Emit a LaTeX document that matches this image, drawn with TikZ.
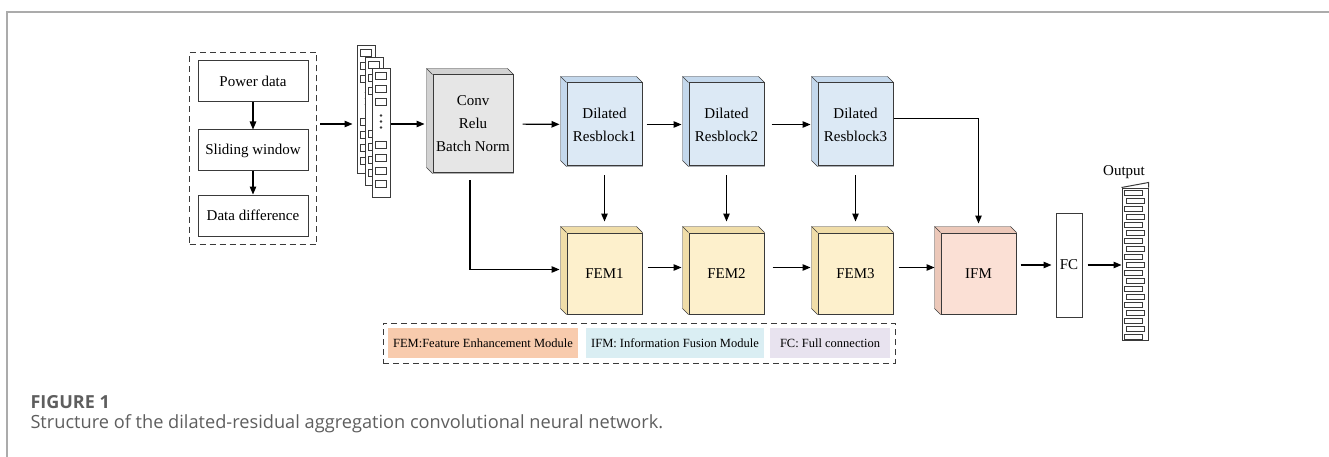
\documentclass[tikz,border=0pt]{standalone}
\usepackage{fontspec}
\setmainfont{Liberation Serif}
\newfontfamily\capfont{Open Sans}
\usetikzlibrary{arrows.meta,calc,positioning,fit,backgrounds}

\definecolor{edge}{HTML}{3A3A3A}
\definecolor{convface}{HTML}{E6E6E6}
\definecolor{convside}{HTML}{D2D2D2}
\definecolor{resface}{HTML}{DCE9F5}
\definecolor{resside}{HTML}{C4D8EC}
\definecolor{femface}{HTML}{FDF0CC}
\definecolor{femside}{HTML}{F0DDA8}
\definecolor{ifmface}{HTML}{FBE0D5}
\definecolor{ifmside}{HTML}{ECC8B9}
\definecolor{keyfem}{HTML}{F8CBAD}
\definecolor{keyifm}{HTML}{DAEEF3}
\definecolor{keyfc}{HTML}{E8E3EF}
\definecolor{frame}{HTML}{ABABAB}
\definecolor{captxt}{HTML}{5E5E5E}

\begin{document}
\begin{tikzpicture}[x=1pt,y=-1pt,
  font=\fontsize{15}{23}\selectfont,
  >={Triangle[length=8pt,width=6.5pt]},
  line width=1pt,
  block/.style={draw=edge, rectangle, inner sep=1pt, align=center},
  cube/.style={block, fill=#1, minimum width=75pt},
  fmap/.style={draw=edge, fill=white, minimum width=18pt, minimum height=128pt, inner sep=0pt},
  group/.style={draw=edge, dash pattern=on 6pt off 4pt, inner sep=#1},
  key/.style={fill=#1, minimum height=30pt, inner sep=2pt, font=\fontsize{12.5}{14}\selectfont},
  link/.style={->, line width=1.1pt}
]
\useasboundingbox (0,0) rectangle (1329,457);

% frame of the figure
\draw[frame, line width=1.5pt] (7,457) -- (7,12) -- (1329,12);

% input preparation
\node[block, minimum width=110pt, minimum height=41pt] (pw) at (253,81.5) {Power data};
\node[block, minimum width=110pt, minimum height=41pt, below=27pt of pw] (sw) {Sliding window};
\node[block, minimum width=110pt, minimum height=41pt, below=23pt of sw] (dd) {Data difference};
\node[group=8pt, fit=(pw)(sw)(dd)] (in) {};

% stacked feature maps
\foreach \i/\x/\y in {1/366/110, 2/374/121.5, 3/381/133} {
  \node[fmap] (m\i) at (\x,\y) {};
  \foreach \s in {4,17,30,73,86,99,112}
    \draw[edge, line width=0.8pt] ([shift={(4,\s)}]m\i.north west) rectangle +(11,7);
  \foreach \d in {47,53,59}
    \fill[edge] ([shift={(9.5,\d)}]m\i.north west) circle (1.4);
}

% network blocks
\node[cube=convface, minimum width=80pt, minimum height=98pt] (conv) at (473,124) {Conv\\Relu\\Batch Norm};
\node[cube=resface, minimum height=83pt] (r1) at (604.5,124.5) {Dilated\\Resblock1};
\node[cube=resface, minimum height=83pt, right=46pt of r1] (r2) {Dilated\\Resblock2};
\node[cube=resface, minimum height=83pt, right=53pt of r2] (r3) {Dilated\\Resblock3};

\node[cube=femface, minimum height=81pt, below=66pt of r1] (f1) {FEM1};
\node[cube=femface, minimum height=81pt, below=66pt of r2] (f2) {FEM2};
\node[cube=femface, minimum height=81pt, below=66pt of r3] (f3) {FEM3};
\node[cube=ifmface, minimum height=81pt, right=47pt of f3] (ifm) {IFM};

\node[block, minimum width=26pt, minimum height=104pt] (fc) at (1069,265) {FC};

% output vector
\node[draw=edge, minimum width=26pt, minimum height=152pt, inner sep=0pt] (out) at (1135,264) {};
\draw[edge] (out.north west) -- ([yshift=5pt]out.north east) -- (out.north east);
\foreach \k in {0,...,18}
  \draw[edge, line width=0.7pt] ([shift={({3+2*mod(\k,2)},{3+8*\k})}]out.north west) rectangle +(18,5);
\node (olab) at (1124,172) {Output};

% 3-D sides of the blocks
\begin{scope}[on background layer]
\foreach \n/\c in {conv/convside, r1/resside, r2/resside, r3/resside,
                   f1/femside, f2/femside, f3/femside, ifm/ifmside} {
  \filldraw[draw=edge, fill=\c] ([shift={(-6,-6)}]\n.north west) -- ([shift={(-6,-6)}]\n.north east)
    -- (\n.north east) -- (\n.south east) -- (\n.south west) -- ([shift={(-6,-6)}]\n.south west) -- cycle;
  \draw[edge] ([shift={(-6,-6)}]\n.north west) -- (\n.north west);
}
\end{scope}

% connections
\draw[link] (pw) -- (sw);
\draw[link] (sw) -- (dd);
\draw[link, shorten <=3pt, shorten >=4pt] (in.east |- conv.west) -- (m1.west |- conv.west);
\draw[link, shorten >=8pt] (m3.east |- conv.west) -- (conv.west);
\draw[link, shorten <=9pt, shorten >=7pt] (conv) -- (r1);
\draw[link, shorten <=4pt, shorten >=7pt] (r1) -- (r2);
\draw[link, shorten <=7pt, shorten >=7pt] (r2) -- (r3);
\draw[link, shorten >=9pt] ([yshift=6pt]r3.east) -| (ifm.north);
\foreach \a/\b in {r1/f1, r2/f2, r3/f3}
  \draw[link, shorten <=9pt, shorten >=11pt] (\a) -- (\b);
\draw[link, shorten <=7pt, shorten >=7pt] ([xshift=-3pt]conv.south) |- ([yshift=4pt]f1.west);
\draw[link, shorten <=5pt, shorten >=7pt] ([yshift=6pt]f1.east) -- ([yshift=6pt]f2.west);
\draw[link, shorten <=8pt, shorten >=7pt] ([yshift=6pt]f2.east) -- ([yshift=6pt]f3.west);
\draw[link, shorten <=5pt, shorten >=6pt] ([yshift=6pt]f3.east) -- ([yshift=6pt]ifm.west);
\draw[link, shorten <=4pt, shorten >=4pt] (fc.west -| ifm.east) -- (fc.west);
\draw[link, shorten <=5pt] (fc) -- (fc -| out.west);

% legend
\node[key=keyfem, minimum width=190pt] (lf) at (483,343) {FEM:Feature Enhancement Module};
\node[key=keyifm, minimum width=178pt, right=7pt of lf] (li) {IFM: Information Fusion Module};
\node[key=keyfc, minimum width=120pt, right=5pt of li] (lc) {FC: Full connection};
\node[group=4.5pt, fit=(lf)(li)(lc)] (legend) {};

% caption
\node[anchor=base west, inner sep=0pt, text=captxt, font=\capfont\bfseries\fontsize{18}{20}\selectfont] (cap1) at (30,408) {FIGURE 1};
\node[anchor=base west, inner sep=0pt, text=captxt, font=\capfont\fontsize{18.2}{21}\selectfont] (cap2) at (30,428) {Structure of the dilated-residual aggregation convolutional neural network.};
\end{tikzpicture}
\end{document}
